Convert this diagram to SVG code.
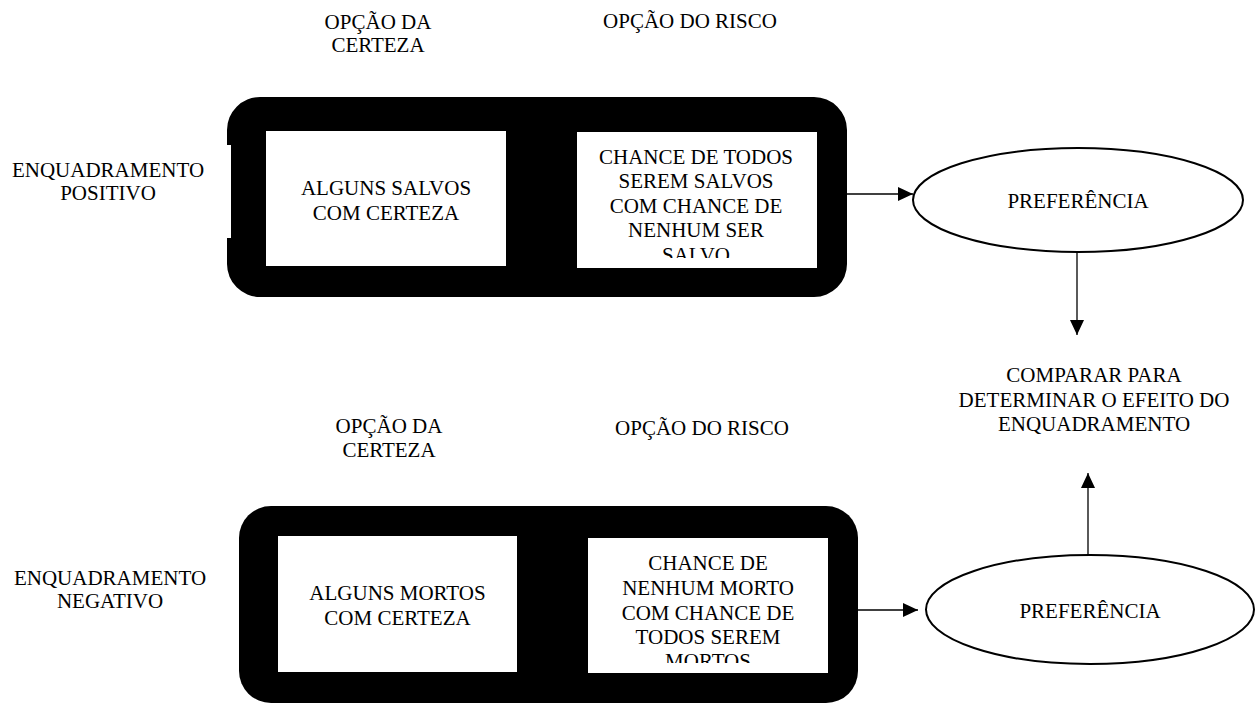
<svg xmlns="http://www.w3.org/2000/svg" width="1255" height="705" viewBox="0 0 1255 705">
<style>
text { font-family: "Liberation Serif", "Times New Roman", serif; font-size: 21px; fill: #000; text-anchor: middle; }
.frame { fill: #000; }
.inner { fill: #fff; }
.ell { fill: #fff; stroke: #000; stroke-width: 2; }
.conn { stroke: #000; stroke-width: 1.3; fill: none; marker-end: url(#arrow); }
</style>
<defs>
<marker id="arrow" markerUnits="userSpaceOnUse" markerWidth="16" markerHeight="15" refX="15" refY="7" orient="auto">
<path d="M0,0 L15,7 L0,14 Z" fill="#000"/>
</marker>
<clipPath id="clipTop"><rect x="577" y="132" width="240" height="126"/></clipPath>
<clipPath id="clipBot"><rect x="588" y="538" width="240" height="125"/></clipPath>
</defs>

<g id="labels">
<text x="378" y="29">OPÇÃO DA</text>
<text x="378" y="52">CERTEZA</text>
<text x="690" y="28">OPÇÃO DO RISCO</text>
<text x="108" y="177">ENQUADRAMENTO</text>
<text x="108" y="200">POSITIVO</text>
<text x="389" y="433">OPÇÃO DA</text>
<text x="389" y="457">CERTEZA</text>
<text x="702" y="435">OPÇÃO DO RISCO</text>
<text x="110" y="585">ENQUADRAMENTO</text>
<text x="110" y="608">NEGATIVO</text>
</g>

<g id="frame-positive">
<path class="frame" d="M260,97 H814 A33,33 0 0 1 847,130 V264 A33,33 0 0 1 814,297 H260 A33,33 0 0 1 227,264 V238 H231 V145 H227 V130 A33,33 0 0 1 260,97 Z"/>
</g>
<g id="certainty-positive">
<rect class="inner" x="266" y="131" width="240" height="135"/>
<text x="386" y="195">ALGUNS SALVOS</text>
<text x="386" y="220">COM CERTEZA</text>
</g>
<g id="risk-positive">
<rect class="inner" x="577" y="132" width="240" height="136"/>
<g clip-path="url(#clipTop)">
<text x="696" y="164">CHANCE DE TODOS</text>
<text x="696" y="188">SEREM SALVOS</text>
<text x="696" y="213">COM CHANCE DE</text>
<text x="696" y="237">NENHUM SER</text>
<text x="696" y="262">SALVO</text>
</g>
</g>

<g id="frame-negative">
<rect class="frame" x="239" y="506" width="619" height="197" rx="32" ry="32"/>
</g>
<g id="certainty-negative">
<rect class="inner" x="278" y="536" width="239" height="136"/>
<text x="397.5" y="600">ALGUNS MORTOS</text>
<text x="397.5" y="625">COM CERTEZA</text>
</g>
<g id="risk-negative">
<rect class="inner" x="588" y="538" width="240" height="135"/>
<g clip-path="url(#clipBot)">
<text x="708" y="570">CHANCE DE</text>
<text x="708" y="595">NENHUM MORTO</text>
<text x="708" y="620">COM CHANCE DE</text>
<text x="708" y="644">TODOS SEREM</text>
<text x="708" y="668">MORTOS</text>
</g>
</g>

<g id="pref-positive">
<ellipse class="ell" cx="1078" cy="200" rx="165" ry="52"/>
<text x="1078" y="208">PREFERÊNCIA</text>
</g>
<g id="compare">
<text x="1094" y="382">COMPARAR PARA</text>
<text x="1094" y="407">DETERMINAR O EFEITO DO</text>
<text x="1094" y="431">ENQUADRAMENTO</text>
</g>
<g id="pref-negative">
<ellipse class="ell" cx="1090" cy="609.5" rx="164" ry="54.5"/>
<text x="1090" y="618">PREFERÊNCIA</text>
</g>

<g id="connectors">
<line class="conn" x1="847" y1="194" x2="913" y2="194"/>
<line class="conn" x1="1077" y1="252" x2="1077" y2="335"/>
<line class="conn" x1="858" y1="610" x2="918" y2="610"/>
<line class="conn" x1="1088" y1="555" x2="1088" y2="473"/>
</g>
</svg>
